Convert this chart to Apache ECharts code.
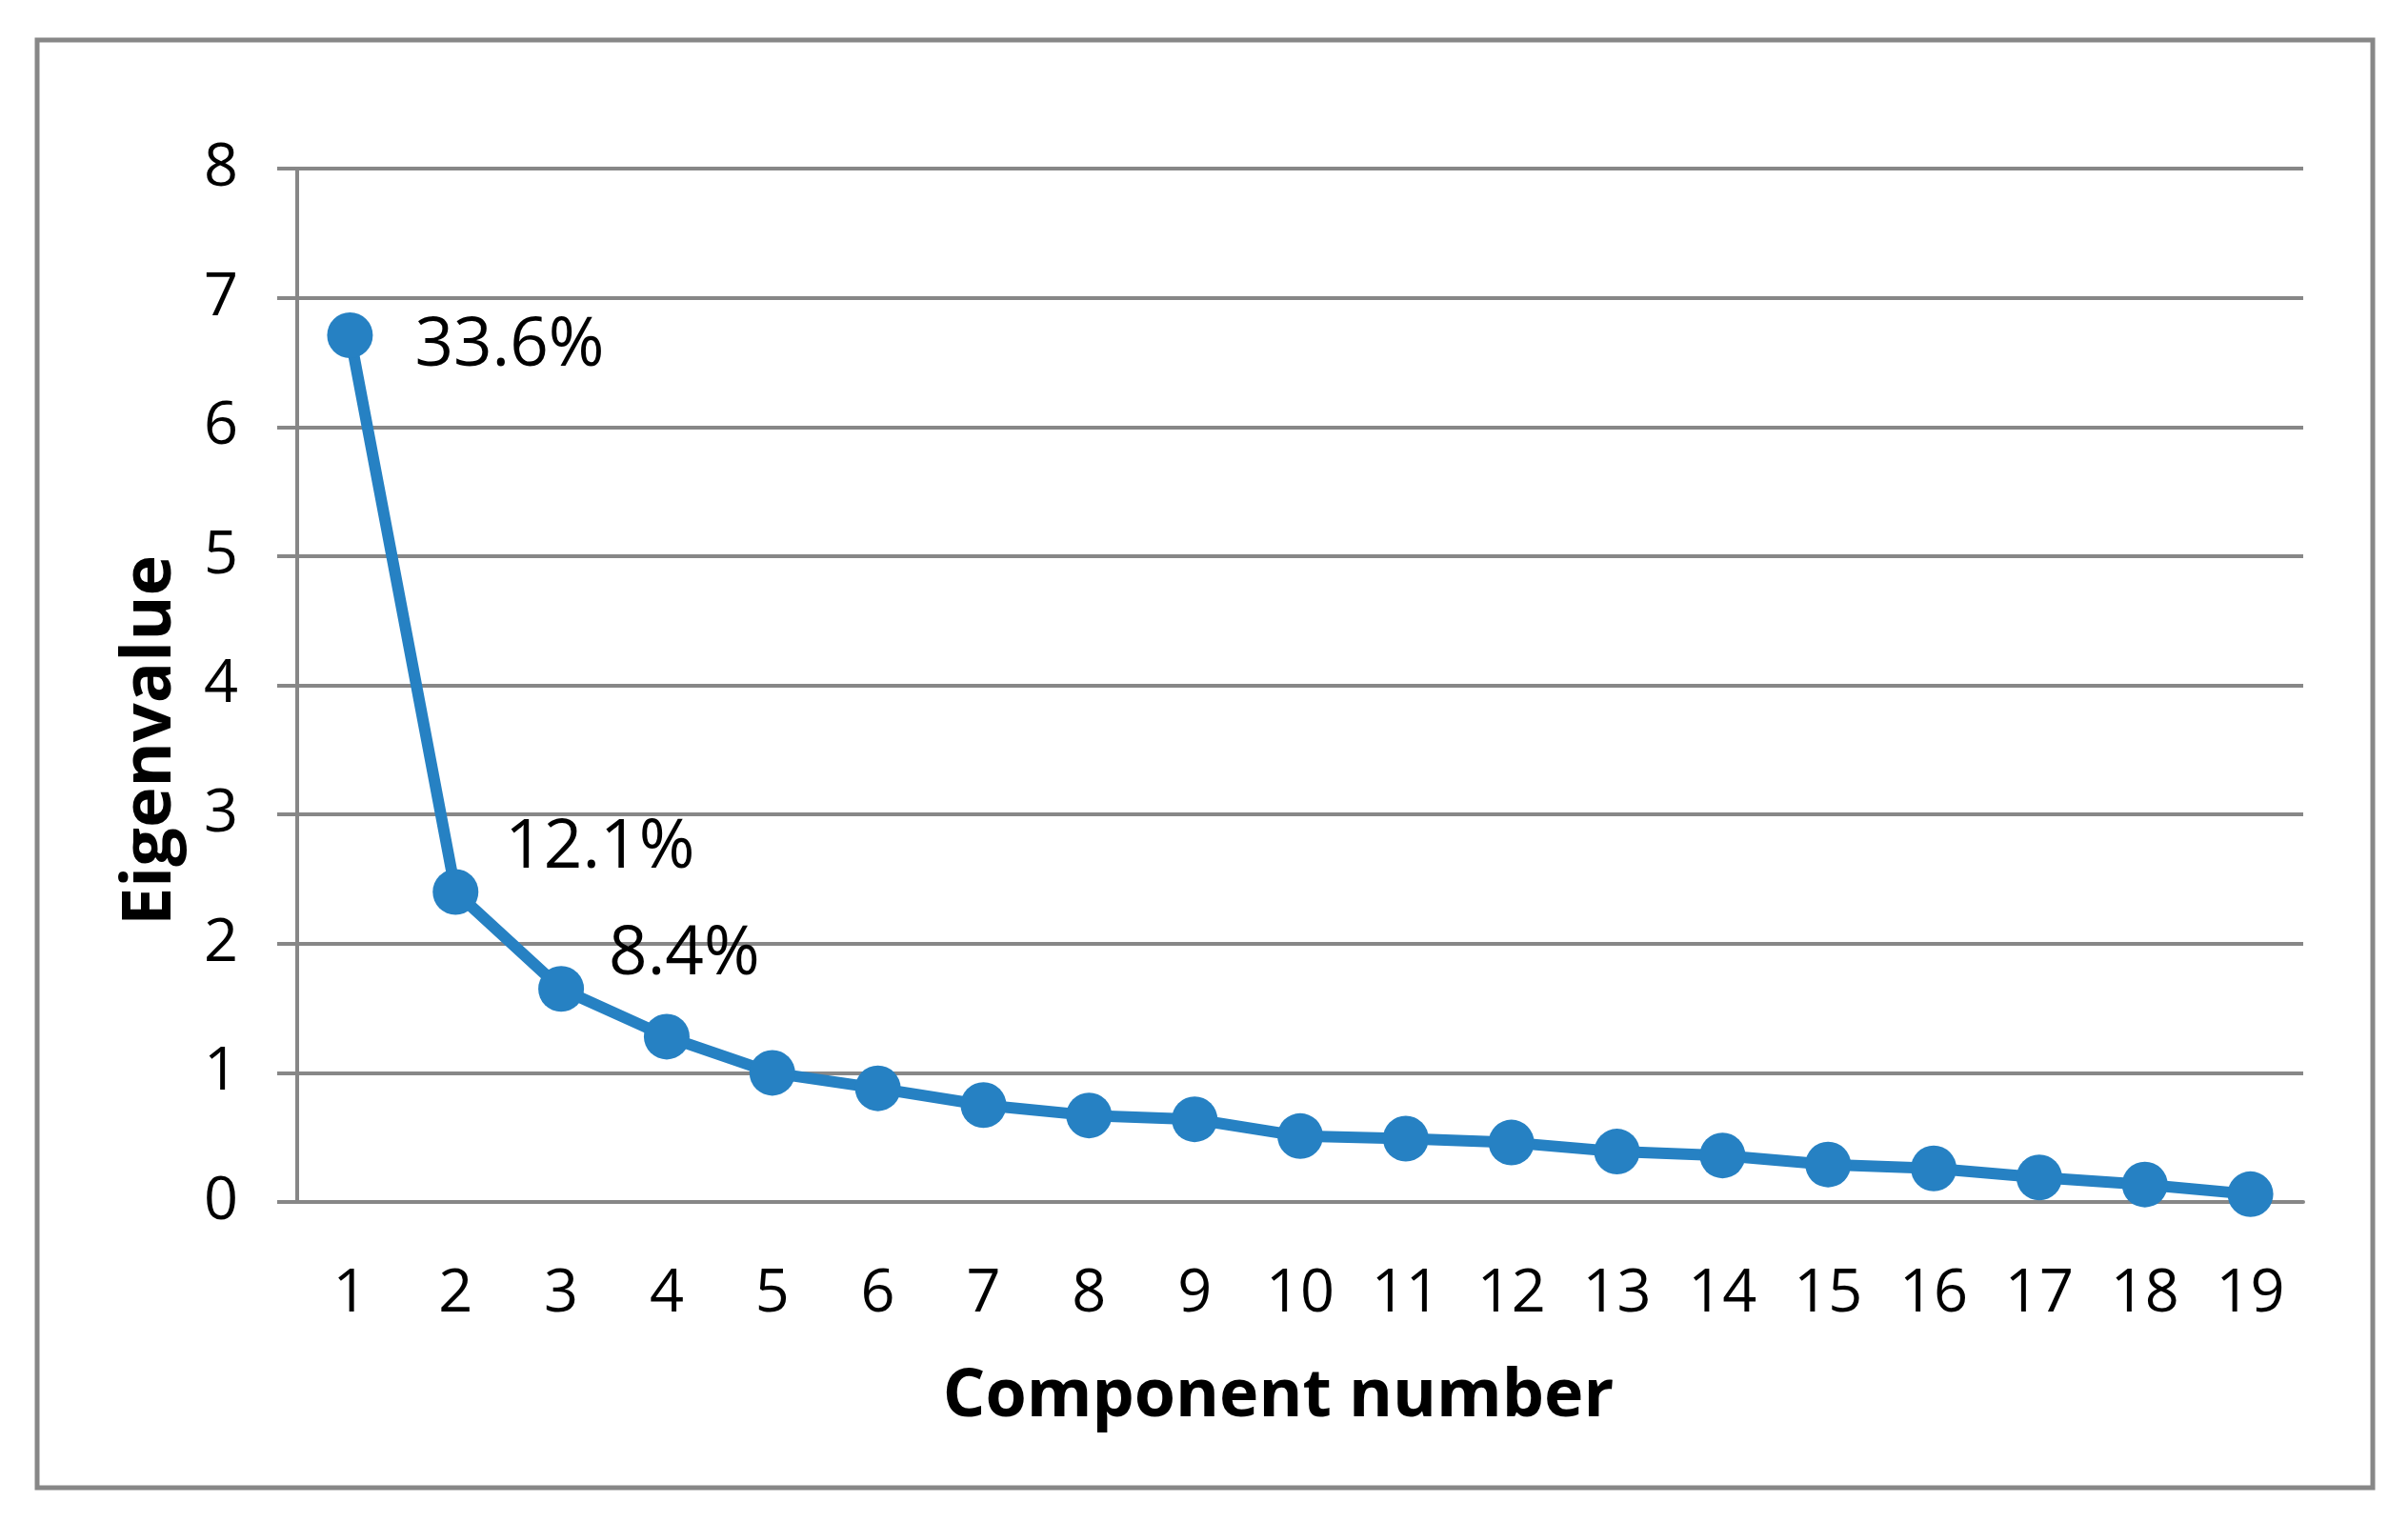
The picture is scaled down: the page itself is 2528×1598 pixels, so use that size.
<!DOCTYPE html>
<html>
<head>
<meta charset="utf-8">
<script src="https://cdn.jsdelivr.net/npm/echarts@6/dist/echarts.min.js"></script>
<style>
html,body{margin:0;padding:0;background:#fff;}
#chart{width:2528px;height:1598px;}
</style>
</head>
<body>
<div id="chart"></div>
<script>
const categories = ['1','2','3','4','5','6','7','8','9','10','11','12','13','14','15','16','17','18','19'];
const eigenvalues = [6.71, 2.40, 1.65, 1.28, 1.00, 0.88, 0.75, 0.67, 0.64, 0.51, 0.49, 0.46, 0.39, 0.36, 0.29, 0.26, 0.19, 0.135, 0.06];
const varianceLabels = ['33.6%', '12.1%', '8.4%'];
const yTicks = [0, 1, 2, 3, 4, 5, 6, 7, 8];
const xAxisTitle = 'Component number';
const yAxisTitle = 'Eigenvalue';

const FONT = '"Open Sans", "Liberation Sans", sans-serif';
const GRID_COLOR = '#878787';
const LINE_COLOR = '#2681C3';

// label offsets (style) for annotated points
const labelStyles = [
  {position: 'right', distance: 44, offset: [0, 12]},
  {position: 'right', distance: 28, offset: [0, -46]},
  {position: 'right', distance: 26, offset: [0, -35]}
];

const seriesData = eigenvalues.map((v, i) => {
  const item = {value: v};
  if (i < varianceLabels.length) {
    item.label = Object.assign({
      show: true,
      formatter: varianceLabels[i],
      fontFamily: FONT,
      fontSize: 71,
      color: '#000'
    }, labelStyles[i]);
  }
  return item;
});

const chart = echarts.init(document.getElementById('chart'), null, {renderer: 'canvas'});
chart.setOption({
  backgroundColor: '#fff',
  animation: false,
  graphic: [{
    type: 'rect',
    shape: {x: 39, y: 42, width: 2452, height: 1520},
    style: {fill: 'none', stroke: GRID_COLOR, lineWidth: 5},
    z: -1
  }],
  grid: {left: 312, right: 110, top: 177, bottom: 336, containLabel: false},
  xAxis: {
    type: 'category',
    data: categories,
    boundaryGap: true,
    axisLine: {show: true, lineStyle: {color: GRID_COLOR, width: 4}},
    axisTick: {show: false},
    axisLabel: {fontFamily: FONT, fontSize: 63, color: '#000', margin: 66, interval: 0},
    name: xAxisTitle,
    nameLocation: 'middle',
    nameGap: 170,
    nameTextStyle: {fontFamily: FONT, fontSize: 70, fontWeight: 'bold', color: '#000', padding: [0, 46, 0, 0]}
  },
  yAxis: {
    type: 'value',
    min: yTicks[0],
    max: yTicks[yTicks.length - 1],
    interval: 1,
    axisLine: {show: true, lineStyle: {color: GRID_COLOR, width: 4}},
    axisTick: {show: true, inside: false, length: 21, lineStyle: {color: GRID_COLOR, width: 4}},
    splitLine: {show: true, lineStyle: {color: GRID_COLOR, width: 4}},
    axisLabel: {fontFamily: FONT, fontSize: 63, color: '#000', margin: 62},
    name: yAxisTitle,
    nameLocation: 'middle',
    nameRotate: 90,
    nameGap: 118,
    nameTextStyle: {fontFamily: FONT, fontSize: 72, fontWeight: 'bold', color: '#000', padding: [0, 116, 0, 0]}
  },
  series: [{
    type: 'line',
    data: seriesData,
    symbol: 'circle',
    symbolSize: 48,
    showAllSymbol: true,
    itemStyle: {color: LINE_COLOR},
    lineStyle: {color: LINE_COLOR, width: 12},
    label: {show: false}
  }]
});
</script>
</body>
</html>
